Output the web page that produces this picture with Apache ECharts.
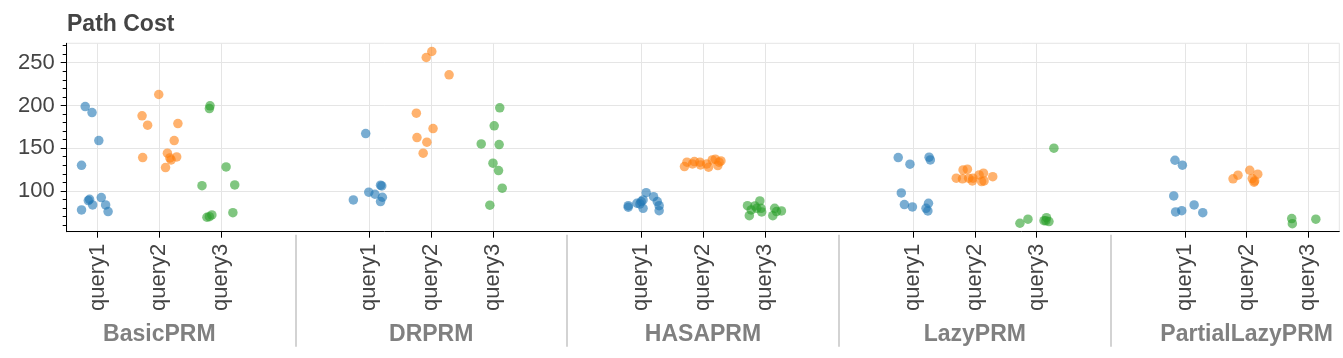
<!DOCTYPE html>
<html>
<head>
<meta charset="utf-8">
<script src="https://cdn.jsdelivr.net/npm/echarts@6/dist/echarts.min.js"></script>
<style>html,body{margin:0;padding:0;background:#fff}#chart{width:1343px;height:358px}</style>
</head>
<body>
<div id="chart"></div>
<script>
// ---- data ----
const methods = ['BasicPRM', 'DRPRM', 'HASAPRM', 'LazyPRM', 'PartialLazyPRM'];
const queries = ['query1', 'query2', 'query3'];
const yTickLabels = [100, 150, 200, 250];
const yMinorTicks = [60, 70, 80, 90, 110, 120, 130, 140, 160, 170, 180, 190, 210, 220, 230, 240, 260, 270];

// path cost per method (order as in methods) for each query
const query1Cost = [
  [198.7, 191.7, 158.9, 130.0, 90.2, 88.7, 83.6, 92.2, 83.6, 75.8, 77.8],
  [167.1, 89.5, 98.5, 96.1, 106.7, 105.9, 92.6, 87.5],
  [82.8, 80.9, 85.6, 87.5, 89.5, 79.7, 98.0, 93.3, 87.5, 82.8, 76.9, 84.8],
  [139.0, 131.3, 139.5, 136.3, 97.7, 84.0, 81.3, 85.6, 79.7, 76.6],
  [135.9, 130.1, 94.1, 83.6, 75.4, 76.9, 74.6]
];
const query2Cost = [
  [212.8, 187.8, 176.9, 178.8, 158.9, 139.0, 144.1, 138.6, 136.3, 139.8, 127.3],
  [263.1, 256.1, 235.8, 191.0, 173.0, 162.4, 157.0, 144.1],
  [128.5, 133.6, 131.6, 134.3, 133.6, 130.4, 131.6, 127.7, 136.3, 137.1, 129.6, 133.6, 135.1],
  [124.6, 125.4, 114.9, 114.1, 114.9, 111.7, 114.9, 118.7, 120.7, 110.9, 111.7, 116.7],
  [114.1, 118.4, 124.2, 119.6, 114.4, 110.2, 111.7]
];
const query3Cost = [
  [199.5, 196.4, 128.1, 106.2, 107.0, 69.2, 69.9, 71.9, 74.6],
  [197.2, 176.1, 155.0, 154.2, 132.4, 123.8, 103.2, 83.3],
  [82.8, 71.1, 77.8, 82.4, 88.3, 79.7, 75.4, 79.7, 71.1, 79.7, 75.8, 76.6],
  [150.0, 62.2, 66.9, 65.2, 68.7, 64.1, 65.2],
  [67.6, 61.7, 66.9]
];
// horizontal jitter of each point (in category widths)
const query1Jitter = [
  [-0.20, -0.09, 0.02, -0.26, -0.13, -0.15, -0.08, 0.06, 0.13, 0.17, -0.26],
  [-0.06, -0.26, -0.01, 0.09, 0.18, 0.20, 0.21, 0.18],
  [-0.21, -0.21, -0.07, 0.00, 0.03, 0.03, 0.08, 0.20, 0.26, 0.29, 0.29, -0.02],
  [-0.24, -0.05, 0.26, 0.28, -0.19, -0.14, -0.01, 0.25, 0.21, 0.24],
  [-0.16, -0.04, -0.18, 0.15, -0.15, -0.05, 0.29]
];
const query2Jitter = [
  [-0.01, -0.28, -0.19, 0.30, 0.24, -0.27, 0.13, 0.17, 0.19, 0.28, 0.10],
  [0.01, -0.08, 0.29, -0.24, 0.03, -0.23, -0.07, -0.13],
  [-0.30, -0.26, -0.17, -0.14, -0.05, -0.04, 0.06, 0.09, 0.15, 0.20, 0.24, 0.26, 0.29],
  [-0.19, -0.12, -0.30, -0.20, -0.10, -0.04, -0.03, 0.07, 0.14, 0.11, 0.15, 0.29],
  [-0.22, -0.14, 0.05, 0.18, 0.09, 0.12, 0.13]
];
const query3Jitter = [
  [-0.18, -0.19, 0.08, -0.31, 0.22, -0.23, -0.19, -0.15, 0.19],
  [0.11, 0.02, -0.19, 0.10, 0.00, 0.09, 0.15, -0.05],
  [-0.28, -0.25, -0.22, -0.16, -0.08, -0.06, -0.05, -0.13, 0.13, 0.16, 0.19, 0.27],
  [0.28, -0.27, -0.14, 0.12, 0.16, 0.20, 0.15],
  [-0.27, -0.26, 0.12]
];

// ---- layout of the nested factor range ----
const groupPadding = 1.4;
const groupWidth = queries.length + groupPadding;
const xMax = methods.length * queries.length + (methods.length - 1) * groupPadding;
const queryPos = (g, q) => g * groupWidth + q + 0.5;
const tickPositions = [], tickNames = [];
methods.forEach((m, g) => queries.forEach((qn, q) => { tickPositions.push(queryPos(g, q)); tickNames.push(qn); }));
const groupCenters = methods.map((m, g) => queryPos(g, 1));
const separators = methods.slice(1).map((m, g) => (queryPos(g, 2) + queryPos(g + 1, 0)) / 2);
const nearestName = (v, pos, names) => {
  let best = 0;
  pos.forEach((p, i) => { if (Math.abs(p - v) < Math.abs(pos[best] - v)) best = i; });
  return names[best];
};

const colors = ['#1f77b4', '#ff7f0e', '#2ca02c'];
const costs = [query1Cost, query2Cost, query3Cost];
const jitters = [query1Jitter, query2Jitter, query3Jitter];
const series = queries.map((qn, q) => {
  const data = [];
  methods.forEach((m, g) => {
    costs[q][g].forEach((v, i) => data.push([queryPos(g, q) + jitters[q][g][i], v]));
  });
  return {
    name: qn, type: 'scatter', data, symbolSize: 9.5, z: 3,
    itemStyle: { color: colors[q], opacity: 0.6 },
    emphasis: { disabled: true }
  };
});

const FONT = '"Liberation Sans", Arial, sans-serif';
const chart = echarts.init(document.getElementById('chart'), null, { renderer: 'canvas' });
chart.setOption({
  animation: false,
  backgroundColor: '#ffffff',
  title: {
    text: 'Path Cost', left: 62, top: 8,
    textStyle: { fontFamily: FONT, fontSize: 23, fontWeight: 'bold', color: '#444444' }
  },
  grid: {
    left: 66.7, right: 3.7, top: 43.3, bottom: 126.3,
    show: true, borderColor: '#e5e5e5', borderWidth: 1, backgroundColor: 'transparent'
  },
  xAxis: [{
    type: 'value', min: 0, max: xMax, position: 'bottom',
    axisLine: { show: true, onZero: false, lineStyle: { color: '#000000', width: 1 } },
    axisTick: { show: true, customValues: tickPositions, length: 6, lineStyle: { color: '#000000' } },
    axisLabel: {
      show: true, customValues: tickPositions, rotate: 90, margin: 12,
      fontFamily: FONT, fontSize: 22, color: '#444444',
      formatter: v => nearestName(v, tickPositions, tickNames)
    },
    splitLine: { show: true, lineStyle: { color: '#e5e5e5', width: 1 } }
  }, {
    type: 'value', min: 0, max: xMax, position: 'bottom', offset: 3,
    axisLine: { show: false },
    axisTick: { show: true, customValues: separators, length: 112, lineStyle: { color: '#d3d3d3', width: 2 } },
    axisLabel: {
      show: true, customValues: groupCenters, margin: 88,
      fontFamily: FONT, fontSize: 23, fontWeight: 'bold', color: '#808080',
      formatter: v => nearestName(v, groupCenters, methods)
    },
    splitLine: { show: false }
  }],
  yAxis: [{
    type: 'value', min: 52.3, max: 272.7, position: 'left',
    axisLine: { show: true, onZero: false, lineStyle: { color: '#000000', width: 1 } },
    axisTick: { show: true, customValues: yTickLabels, length: 6, lineStyle: { color: '#000000' } },
    axisLabel: { show: true, customValues: yTickLabels, margin: 12, fontFamily: FONT, fontSize: 22, color: '#444444',
      formatter: v => String(Math.round(v)) },
    splitLine: { show: true, lineStyle: { color: '#e5e5e5', width: 1 } }
  }, {
    type: 'value', min: 52.3, max: 272.7, position: 'left',
    axisLine: { show: false },
    axisTick: { show: true, customValues: yMinorTicks, length: 4, lineStyle: { color: '#000000' } },
    axisLabel: { show: false },
    splitLine: { show: false }
  }],
  series
});
</script>
</body>
</html>
